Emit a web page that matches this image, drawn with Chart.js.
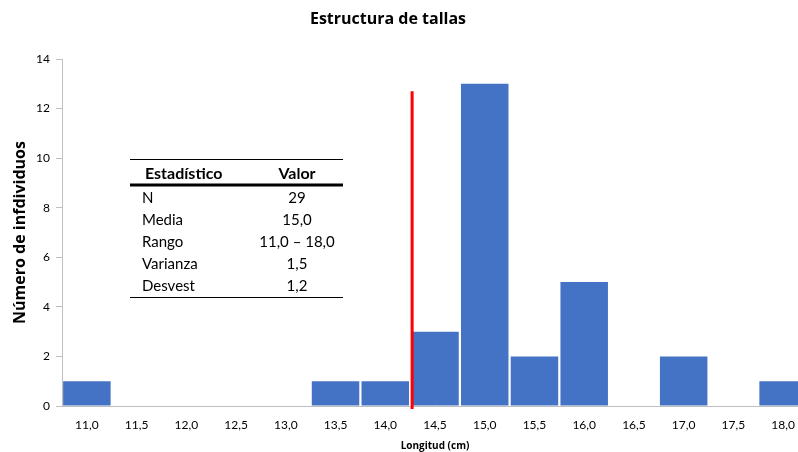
<!DOCTYPE html>
<html>
<head>
<meta charset="utf-8">
<script src="https://cdn.jsdelivr.net/npm/chart.js@4.4.1/dist/chart.umd.min.js"></script>
<style>
  html, body { margin: 0; padding: 0; background: #fff; overflow: hidden; }
  #wrap { position: relative; width: 808px; height: 452px; }
</style>
</head>
<body>
<div id="wrap"><canvas id="c" width="808" height="452"></canvas></div>
<script>
// Clases de talla (cm) y número de individuos en cada una
const categories = ['11,0','11,5','12,0','12,5','13,0','13,5','14,0','14,5','15,0','15,5','16,0','16,5','17,0','17,5','18,0'];
const counts     = [1, 0, 0, 0, 0, 1, 1, 3, 13, 2, 5, 0, 2, 0, 1];

// Talla de referencia marcada con la línea roja
const refLength = 14.27;
const refTop = 12.7;
const firstClass = 11.0;
const classStep = 0.5;

// Resumen estadístico
const statNames  = ['N', 'Media', 'Rango', 'Varianza', 'Desvest'];
const statValues = ['29', '15,0', '11,0 \u2013 18,0', '1,5', '1,2'];

const FONT = 'Lato, "Open Sans", "Liberation Sans", sans-serif';
const FONT_WIDE = '"Open Sans", Lato, "Liberation Sans", sans-serif';

const titlePlugin = {
  id: 'customTitle',
  afterDraw(chart) {
    const ctx = chart.ctx;
    ctx.save();
    ctx.fillStyle = '#000';
    ctx.font = 'bold 16px ' + FONT_WIDE;
    ctx.textAlign = 'center';
    ctx.textBaseline = 'middle';
    ctx.fillText('Estructura de tallas', 388, 19);
    ctx.restore();
  }
};

const refLinePlugin = {
  id: 'refLine',
  afterDatasetsDraw(chart) {
    const x = chart.scales.x;
    const y = chart.scales.y;
    const px = x.getPixelForValue((refLength - firstClass) / classStep);
    const y0 = y.getPixelForValue(0);
    const y1 = y.getPixelForValue(refTop);
    const ctx = chart.ctx;
    ctx.save();
    ctx.strokeStyle = '#FF0000';
    ctx.lineWidth = 3;
    ctx.beginPath();
    ctx.moveTo(px, y0 + 3);
    ctx.lineTo(px, y1);
    ctx.stroke();
    ctx.restore();
  }
};

const statsTablePlugin = {
  id: 'statsTable',
  afterDraw(chart) {
    const ctx = chart.ctx;
    const left = 130, right = 343, col1 = 142, col2 = 297;
    ctx.save();
    ctx.strokeStyle = '#000';
    ctx.fillStyle = '#000';
    ctx.lineWidth = 1;
    ctx.beginPath(); ctx.moveTo(left, 159.5); ctx.lineTo(right, 159.5); ctx.stroke();
    ctx.font = 'bold 16px ' + FONT;
    ctx.textBaseline = 'middle';
    ctx.textAlign = 'left';
    ctx.fillText('Estadístico', 145, 174);
    ctx.textAlign = 'center';
    ctx.fillText('Valor', col2, 174);
    ctx.lineWidth = 3;
    ctx.beginPath(); ctx.moveTo(left, 185); ctx.lineTo(right, 185); ctx.stroke();
    ctx.font = '15px ' + FONT;
    statNames.forEach((name, i) => {
      const yy = 198 + i * 22;
      ctx.textAlign = 'left';
      ctx.fillText(name, col1, yy);
      ctx.textAlign = 'center';
      ctx.fillText(statValues[i], col2, yy);
    });
    ctx.lineWidth = 1;
    ctx.beginPath(); ctx.moveTo(left, 297.5); ctx.lineTo(right, 297.5); ctx.stroke();
    ctx.restore();
  }
};

new Chart(document.getElementById('c'), {
  type: 'bar',
  data: {
    labels: categories,
    datasets: [{
      data: counts,
      backgroundColor: '#4472C4',
      borderWidth: 0,
      barPercentage: 0.955,
      categoryPercentage: 1.0
    }]
  },
  options: {
    responsive: false,
    animation: false,
    layout: { padding: { top: 59, left: 0, right: 0, bottom: 0 } },
    plugins: {
      legend: { display: false },
      title: { display: false },
      tooltip: { enabled: false }
    },
    scales: {
      x: {
        grid: { display: false, drawTicks: false },
        border: { display: true, color: '#BFBFBF', width: 1 },
        ticks: { color: '#000', font: { family: FONT, size: 12 }, padding: 12, maxRotation: 0, autoSkip: false },
        title: { display: true, text: 'Longitud (cm)', color: '#000', font: { family: FONT_WIDE, size: 10, weight: 'bold' }, padding: { top: 3, bottom: 0 } },
        afterFit(scale) { scale.height = 46; }
      },
      y: {
        min: 0, max: 14,
        grid: { drawOnChartArea: false, drawTicks: true, tickLength: 6, color: '#BFBFBF' },
        border: { display: true, color: '#BFBFBF', width: 1 },
        ticks: { stepSize: 2, color: '#000', font: { family: FONT, size: 12 }, padding: 6 },
        title: { display: true, text: 'Número de infdividuos', color: '#000', font: { family: FONT_WIDE, size: 16, weight: 'bold' }, padding: { top: 11, bottom: 0 } },
        afterFit(scale) { scale.width = 62; }
      }
    }
  },
  plugins: [titlePlugin, refLinePlugin, statsTablePlugin]
});
</script>
</body>
</html>
